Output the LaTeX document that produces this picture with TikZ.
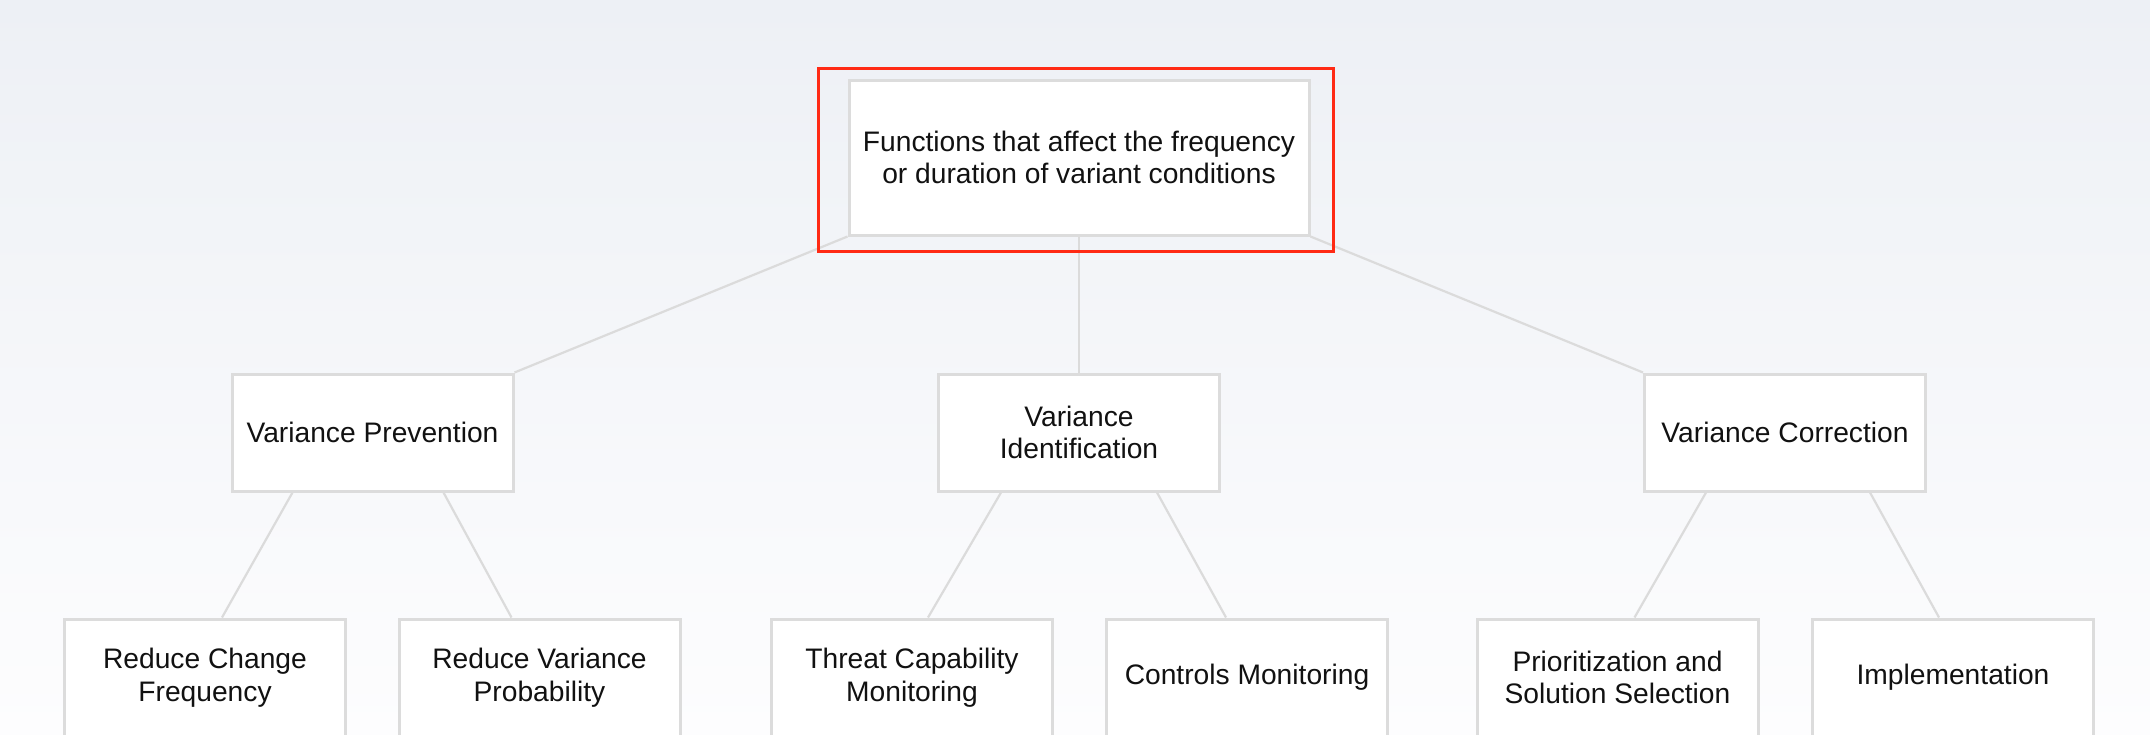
\documentclass[tikz,border=0pt]{standalone}
\usepackage{fontspec}
\setmainfont{Liberation Sans}
\usetikzlibrary{calc}
\definecolor{bgtop}{HTML}{EDF0F5}
\definecolor{bgbottom}{HTML}{FDFDFE}
\definecolor{boxline}{HTML}{DCDCDC}
\definecolor{linkline}{HTML}{DBDBDB}
\definecolor{hilite}{HTML}{FF2A14}
\definecolor{ink}{HTML}{111111}
\pgfdeclarelayer{bg}
\pgfdeclarelayer{links}
\pgfsetlayers{bg,links,main}
\tikzset{
  box/.style={draw=boxline, line width=1.5pt, fill=white, rectangle,
    inner sep=0pt, minimum width=140.5pt, minimum height=58.5pt,
    align=center, text=ink, font=\fontsize{14.1pt}{16.3pt}\selectfont},
  rootbox/.style={box, minimum width=230pt, minimum height=77.5pt},
  link/.style={draw=linkline, line width=1.1pt},
  mark box/.style={draw=hilite, line width=1.3pt}
}
\begin{document}
\begin{tikzpicture}[x=0.5pt, y=-0.5pt]
  \useasboundingbox (0,0) rectangle (2150,734);
  \clip (0,0) rectangle (2150,734);
  \begin{pgfonlayer}{bg}
    \shade[top color=bgtop, bottom color=bgbottom] (0,0) rectangle (2150,734);
  \end{pgfonlayer}

  % top level
  \node[rootbox] (root) at (1079,157.5) {Functions that affect the frequency\\or duration of variant conditions};

  % second level
  \node[box] (vp) at (372.5,432.5) {Variance Prevention};
  \node[box] (vi) at (1079,432.5) {Variance\\Identification};
  \node[box] (vc) at (1785,432.5) {Variance Correction};

  % third level
  \node[box] (rcf) at (205,677.5) {Reduce Change\\Frequency};
  \node[box] (rvp) at (539.5,677.5) {Reduce Variance\\Probability};
  \node[box] (tcm) at (912,677.5) {Threat Capability\\Monitoring};
  \node[box] (cm) at (1247,677.5) {Controls Monitoring};
  \node[box] (pss) at (1617.5,677.5) {Prioritization and\\Solution Selection};
  \node[box] (impl) at (1953,677.5) {Implementation};

  % highlight frame round the top box
  \draw[mark box] ($(root.north west)+(-29,-10)$) rectangle ($(root.south east)+(23,15)$);

  \begin{pgfonlayer}{links}
    \draw[link] (root.south west) -- (vp.north east);
    \draw[link] (root.south) -- (vi.north);
    \draw[link] (root.south east) -- (vc.north west);

    \draw[link] ($(vp.south west)+(62,0)$) -- ($(rcf.north west)+(159,0)$);
    \draw[link] ($(vp.south east)+(-71,0)$) -- ($(rvp.north west)+(114,0)$);
    \draw[link] ($(vi.south west)+(64,0)$) -- ($(tcm.north west)+(158,0)$);
    \draw[link] ($(vi.south east)+(-64,0)$) -- ($(cm.north west)+(121,0)$);
    \draw[link] ($(vc.south west)+(63,0)$) -- ($(pss.north west)+(159,0)$);
    \draw[link] ($(vc.south east)+(-57,0)$) -- ($(impl.north west)+(128,0)$);
  \end{pgfonlayer}
\end{tikzpicture}
\end{document}
